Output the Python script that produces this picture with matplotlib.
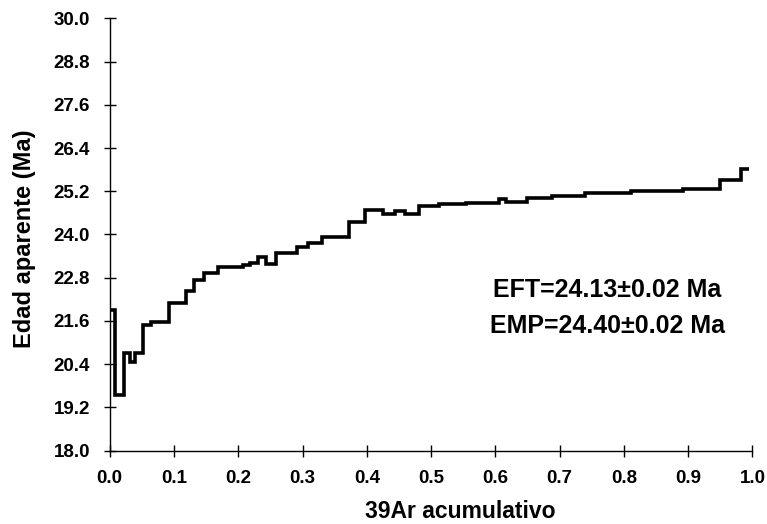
import matplotlib
matplotlib.use('Agg')
import matplotlib.pyplot as plt
import numpy as np

# step edges (cumulative 39Ar fraction) and apparent age of each step (Ma)
edges = [0, 0.008, 0.022, 0.031, 0.04, 0.052, 0.065, 0.093, 0.119, 0.131, 0.147,
         0.168, 0.207, 0.219, 0.23, 0.243, 0.258, 0.292, 0.309, 0.331, 0.373,
         0.397, 0.425, 0.444, 0.459, 0.482, 0.513, 0.555, 0.606, 0.616, 0.649,
         0.688, 0.74, 0.811, 0.892, 0.95, 0.982, 0.995]
ages = [21.9, 19.55, 20.71, 20.45, 20.72, 21.49, 21.58, 22.09, 22.43, 22.74,
        22.94, 23.11, 23.15, 23.2, 23.38, 23.17, 23.48, 23.64, 23.77, 23.92,
        24.34, 24.68, 24.57, 24.66, 24.57, 24.8, 24.84, 24.87, 24.99, 24.91,
        25.0, 25.08, 25.16, 25.21, 25.26, 25.51, 25.82]

yticks = [18.0, 19.2, 20.4, 21.6, 22.8, 24.0, 25.2, 26.4, 27.6, 28.8, 30.0]
xticks = [0.0, 0.1, 0.2, 0.3, 0.4, 0.5, 0.6, 0.7, 0.8, 0.9, 1.0]

plt.rcParams['font.family'] = ['Liberation Sans', 'DejaVu Sans']
plt.rcParams['font.weight'] = 'bold'

fig = plt.figure(figsize=(7.67, 5.24), dpi=100)
ax = fig.add_axes([0.143, 0.14, 0.838, 0.825])

ax.stairs(ages, edges, baseline=None, color='black', linewidth=2.6)

ax.set_xlim(0, 1)
ax.set_ylim(18, 30)
ax.set_xticks(xticks)
ax.set_yticks(yticks)
ax.set_xticklabels(['%.1f' % v for v in xticks], fontsize=13.5, fontweight='bold')
ax.set_yticklabels(['%.1f' % v for v in yticks], fontsize=13.5, fontweight='bold')
ax.tick_params(direction='inout', length=8, width=1)
ax.tick_params(axis='x', pad=10)
ax.tick_params(axis='y', pad=10)

for s in ['top', 'right']:
    ax.spines[s].set_visible(False)
for s in ['left', 'bottom']:
    ax.spines[s].set_linewidth(1)

ax.set_xlabel('39Ar acumulativo', fontsize=16.5, fontweight='bold', va='center')
ax.set_ylabel('Edad aparente (Ma)', fontsize=17, fontweight='bold', va='center')
ax.xaxis.set_label_coords(0.545, -0.141)
ax.yaxis.set_label_coords(-0.132, 0.49)

ax.text(0.774, 0.356, 'EFT=24.13\u00b10.02 Ma', transform=ax.transAxes,
        ha='center', va='baseline', fontsize=18, fontweight='bold')
ax.text(0.774, 0.272, 'EMP=24.40\u00b10.02 Ma', transform=ax.transAxes,
        ha='center', va='baseline', fontsize=18, fontweight='bold')

fig.savefig('out.png', dpi=100)
